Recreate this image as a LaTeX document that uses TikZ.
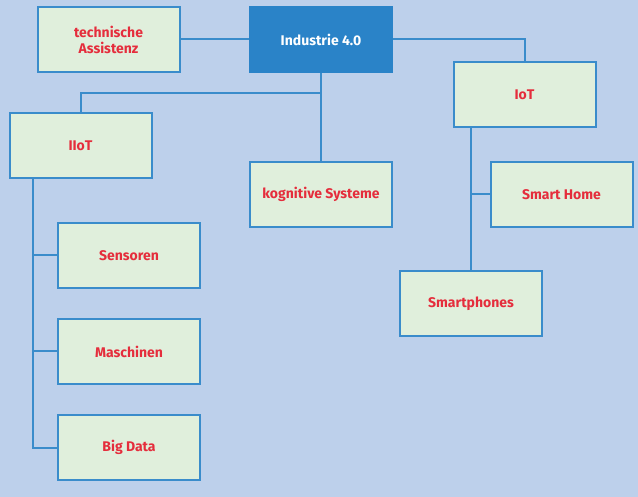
\documentclass[tikz,border=0pt]{standalone}
\usepackage{fontspec}
\setmainfont{Fira Sans}
\definecolor{bg}{HTML}{BDD0EB}
\definecolor{boxfill}{HTML}{E0EFDC}
\definecolor{boxline}{HTML}{3A8CCB}
\definecolor{txtred}{HTML}{E52D3C}
\definecolor{mainblue}{HTML}{2A83C8}
\begin{document}
\begin{tikzpicture}[x=1pt,y=-1pt,
  box/.style={draw=boxline,line width=2pt,fill=boxfill,minimum width=142pt,minimum height=65pt,
    inner sep=0pt,align=center,text=txtred,font=\fontsize{14}{16}\selectfont\bfseries},
  mainbox/.style={box,fill=mainblue,draw=mainblue,text=white},
  conn/.style={draw=boxline,line width=2pt}]
\fill[bg] (0,0) rectangle (638,497);
\useasboundingbox (0,0) rectangle (638,497);
\node[box] (ta) at (108.5,39.5) {technische\\Assistenz};
\node[mainbox] (ind) at (321,39.5) {Industrie 4.0};
\node[box] (iot) at (524.5,94.5) {IoT};
\node[box] (iiot) at (80.5,146) {IIoT};
\node[box] (kog) at (321,194.5) {kognitive Systeme};
\node[box] (sh) at (561.5,194.5) {Smart Home};
\node[box] (sen) at (129,255.5) {Sensoren};
\node[box] (mas) at (129,351.5) {Maschinen};
\node[box] (big) at (129,447.5) {Big Data};
\node[box] (sp) at (471,304) {Smartphones};
\coordinate (j1) at (321,93);
\coordinate (j2) at (80.5,93);
\coordinate (j3) at (524.5,39.5);
\coordinate (iotx) at (471,127);
\coordinate (iiotx) at (33,179);
\draw[conn] (ind.west) -- (ta.east);
\draw[conn] (ind.east) -- (j3) -- (iot.north);
\draw[conn] (ind.south) -- (kog.north);
\draw[conn] (j1) -- (j2) -- (iiot.north);
\draw[conn] (iotx) -- (sp.north -| iotx);
\draw[conn] (sh.west) -- (sh.west -| iotx);
\draw[conn] (iiotx) -- (big.west -| iiotx) -- (big.west);
\draw[conn] (sen.west) -- (sen.west -| iiotx);
\draw[conn] (mas.west) -- (mas.west -| iiotx);
\end{tikzpicture}
\end{document}
